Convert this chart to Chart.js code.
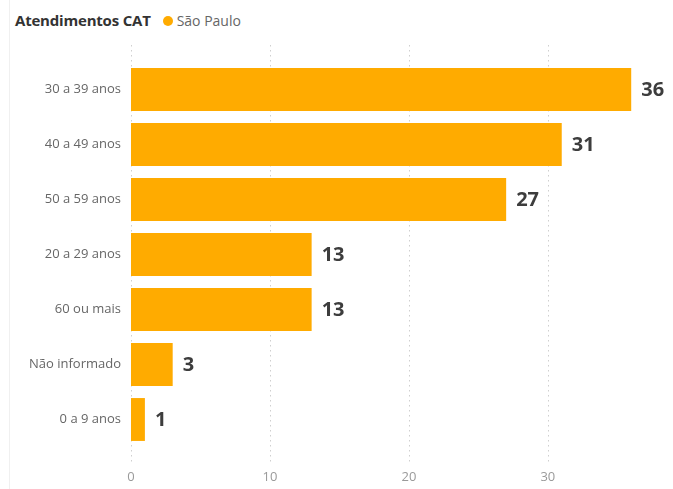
<!DOCTYPE html>
<html>
<head>
<meta charset="utf-8">
<script src="https://cdn.jsdelivr.net/npm/chart.js@4.4.1/dist/chart.umd.min.js"></script>
<style>
  html, body { margin: 0; padding: 0; background: #fff; }
  #wrap { position: relative; width: 673px; height: 489px; font-family: 'Open Sans', 'Noto Sans', sans-serif; }
  #wrap:before { content: ''; position: absolute; left: 9px; top: 0; bottom: 0; border-left: 1px solid #f0f0f0; }
  #head { position: absolute; left: 15px; top: 9px; white-space: nowrap; line-height: 22px; }
  #head b { color: #333; font-size: 15px; letter-spacing: -0.2px; }
  #head .dot { display: inline-block; width: 10px; height: 10px; border-radius: 50%; background: #FFAB00; margin: 0 4px 0 12px; vertical-align: 0px; }
  #head span.lab { color: #666; font-size: 14px; }
  canvas { position: absolute; left: 0; top: 0; }
</style>
</head>
<body>
<div id="wrap">
  <div id="head"><b>Atendimentos CAT</b><span class="dot"></span><span class="lab">São Paulo</span></div>
  <canvas id="c" width="673" height="489"></canvas>
</div>
<script>
// faixas etárias e atendimentos
const categories = ['30 a 39 anos', '40 a 49 anos', '50 a 59 anos', '20 a 29 anos', '60 ou mais', 'Não informado', '0 a 9 anos'];
const values = [36, 31, 27, 13, 13, 3, 1];
const xTicks = [0, 10, 20, 30];

const FONT = "'Open Sans', 'Noto Sans', sans-serif";

// linhas de grade pontilhadas, um pouco além da área das barras
const dottedGrid = {
  id: 'dottedGrid',
  beforeDatasetsDraw(chart) {
    const { ctx, chartArea } = chart;
    const sx = chart.scales.x;
    ctx.save();
    ctx.strokeStyle = '#cfcfcf';
    ctx.lineWidth = 1;
    ctx.setLineDash([1.5, 3.5]);
    xTicks.forEach(v => {
      const x = Math.round(sx.getPixelForValue(v)) + 0.5;
      ctx.beginPath();
      ctx.moveTo(x, chartArea.top - 17);
      ctx.lineTo(x, chartArea.bottom + 15);
      ctx.stroke();
    });
    ctx.restore();
  }
};

// rótulos de valor no fim das barras
const valueLabels = {
  id: 'valueLabels',
  afterDatasetsDraw(chart) {
    const ctx = chart.ctx;
    const meta = chart.getDatasetMeta(0);
    ctx.save();
    ctx.font = 'bold 20px ' + FONT;
    ctx.fillStyle = '#3d3d3d';
    ctx.textBaseline = 'middle';
    meta.data.forEach((bar, i) => {
      ctx.fillText(String(values[i]), bar.x + 10, bar.y + 1);
    });
    ctx.restore();
  }
};

new Chart(document.getElementById('c'), {
  type: 'bar',
  data: {
    labels: categories,
    datasets: [{
      label: 'São Paulo',
      data: values,
      backgroundColor: '#FFAB00',
      borderWidth: 0,
      categoryPercentage: 0.78,
      barPercentage: 1
    }]
  },
  options: {
    indexAxis: 'y',
    responsive: false,
    animation: false,
    layout: { padding: { top: 62, right: 14, bottom: 0, left: 0 } },
    plugins: {
      legend: { display: false },
      tooltip: { enabled: false }
    },
    scales: {
      x: {
        min: 0,
        max: 38,
        afterBuildTicks: s => { s.ticks = xTicks.map(v => ({ value: v })); },
        afterFit: s => { s.height = 42; },
        grid: { display: false },
        border: { display: false },
        ticks: { color: '#9a9a9a', font: { family: FONT, size: 13 }, padding: 14 }
      },
      y: {
        afterFit: s => { s.width = 131; },
        grid: { display: false },
        border: { display: false },
        ticks: { color: '#666', font: { family: FONT, size: 13 }, padding: 2 }
      }
    }
  },
  plugins: [dottedGrid, valueLabels]
});
</script>
</body>
</html>
